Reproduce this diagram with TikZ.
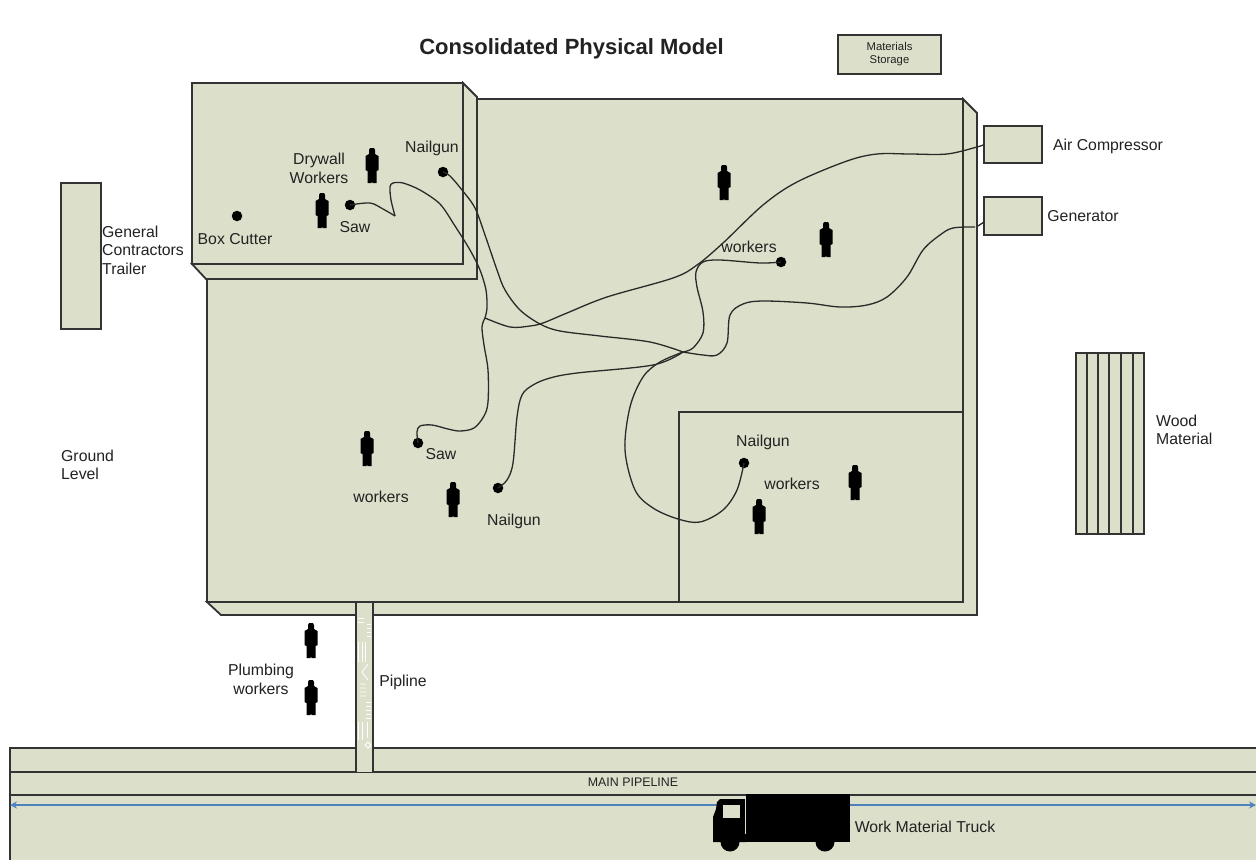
\documentclass[tikz,border=0pt]{standalone}
\usepackage{fontspec}
\setmainfont{Liberation Sans}
\usetikzlibrary{arrows.meta}
\definecolor{sage}{HTML}{DCE0CA}
\definecolor{ink}{HTML}{333333}
\definecolor{wire}{HTML}{2A2A28}
\definecolor{txt}{HTML}{222222}
\definecolor{bluearrow}{HTML}{4F81BD}
\tikzset{
  solid3d/.style={draw=ink,fill=sage,line width=1.4pt,line join=miter},
  outer3d/.style={draw=ink,fill=sage,line width=1.8pt,line join=miter},
  boxn/.style={draw=ink,fill=sage,line width=1.4pt,inner sep=0pt,outer sep=0pt},
  lab/.style={text=txt,inner sep=0pt,yshift=-0.7pt,font=\fontsize{15.8}{18.8}\selectfont,align=center},
  labm/.style={lab,yshift=0.2pt},
  labl/.style={lab,yshift=0.4pt,align=left,anchor=west},
  tiny/.style={text=txt,inner sep=0pt,font=\fontsize{11.3}{13}\selectfont,align=center},
  dotn/.style={circle,fill=black,inner sep=0pt,minimum size=10.5pt},
  wirel/.style={draw=wire,line width=1.3pt,line join=round},
  worker/.pic={\fill[black] (-2,0) -- (2,0) -- (3,2) -- (3,6) -- (6.5,8) -- (6.5,22) -- (4.5,23) -- (4.5,35) -- (0.5,35) -- (0,33) -- (-0.5,35) -- (-4.5,35) -- (-4.5,23) -- (-6.5,22) -- (-6.5,8) -- (-3,6) -- (-3,2) -- cycle;}
}
\begin{document}
\begin{tikzpicture}[x=1pt,y=-1pt]
\useasboundingbox (0,0) rectangle (1256,860);
\fill[white] (0,0) rectangle (1256,860);

% ground band with main pipeline
\fill[sage] (10,748) rectangle (1256,860);
\draw[ink,line width=1.4pt] (1256,748) -- (10,748) -- (10,860);
\draw[ink,line width=1.4pt] (10,772) -- (1256,772);
\draw[ink,line width=1.4pt] (10,795) -- (1256,795);

% main slab
\draw[outer3d] (963,99) -- (977,113) -- (977,615) -- (221,615) -- (207,602) -- (963,602) -- cycle;
\draw[solid3d] (207,99) rectangle (963,602);
\node[boxn,minimum width=284pt,minimum height=190pt] (room) at (821,507) {};

% pipe
\fill[sage] (356,602) rectangle (373,772);
\draw[ink,line width=1.4pt] (356,602) -- (356,772);
\draw[ink,line width=1.4pt] (373,602) -- (373,772);
\draw[ink,line width=1.4pt] (207,602) -- (373,602);
\begin{scope}[white,line width=0.9pt]
\draw (358,618) -- (364,618) (358,622) -- (364,622) (367,624) -- (371,624) (367,628) -- (371,628) (367,632) -- (371,632) (367,636) -- (371,636);
\draw (358,642) -- (358,662) (362,642) -- (362,662) (365,642) -- (365,662);
\draw (368,664) -- (362,672) -- (368,680) (360,684) -- (366,684) (360,688) -- (366,688) (360,692) -- (366,692) (360,696) -- (366,696);
\draw (366,702) -- (371,702) (366,706) -- (371,706) (366,710) -- (371,710) (366,714) -- (371,714) (366,718) -- (371,718);
\draw (358,722) -- (358,740) (362,722) -- (362,740) (367,722) -- (367,738);
\draw (368,742) -- (365,745) -- (368,748) -- (371,745) -- cycle;
\end{scope}

% upper drywall box
\draw[outer3d] (463,83) -- (477,97) -- (477,279) -- (206,279) -- (192,264) -- (463,264) -- cycle;
\draw[solid3d] (192,83) rectangle (463,264);

% outside boxes
\node[boxn,minimum width=40pt,minimum height=146pt] (trailer) at (81,256) {};
\node[boxn,minimum width=103pt,minimum height=39pt,tiny] (storage) at (889.5,54.5) {Materials\\Storage};
\node[boxn,minimum width=58pt,minimum height=37pt] (air) at (1013,144.5) {};
\node[boxn,minimum width=58pt,minimum height=38pt] (gen) at (1013,216) {};
\node[boxn,minimum width=68pt,minimum height=181pt] (wood) at (1110,443.5) {};
\foreach \x in {1087,1098,1109,1121,1133} \draw[ink,line width=1.4pt] (\x,353) -- (\x,534);

% tool dots
\node[dotn] (boxcutter) at (237,216) {};
\node[dotn] (sawa) at (350,205) {};
\node[dotn] (nailguna) at (443,172) {};
\node[dotn] (workerstool) at (781,262) {};
\node[dotn] (sawb) at (418,443) {};
\node[dotn] (nailgunb) at (498,488) {};
\node[dotn] (nailgunc) at (744,463) {};
\coordinate (hubw) at (485,318);
\coordinate (hube) at (683,352);
\coordinate (genport) at (975,227);

% hoses
\draw[wirel] plot[smooth,tension=0.55] coordinates {(sawa) (370,203) (383,209) (395,216)};
\draw[wirel] plot[smooth,tension=0.5] coordinates {(395,216) (391,200) (390,187) (393,183) (403,183) (420,190) (440,204) (455,226) (470,250) (480,270) (486,290) (487,308) (hubw)};
\draw[wirel] plot[smooth,tension=0.55] coordinates {(hubw) (482,327) (484,345) (488,370) (488,402) (484,416) (474,428) (460,431) (448,429) (432,425) (420,426) (417,432) (sawb)};
\draw[wirel] plot[smooth,tension=0.55] coordinates {(nailguna) (450,176) (462,190) (475,208) (485,235) (497,270) (505,290) (520,310) (540,324) (560,331) (600,336) (650,342) (hube)};
\draw[wirel] plot[smooth,tension=0.55] coordinates {(air.west) (977,147) (947,154) (910,154) (877,154) (847,161) (797,182) (763,205) (723,243) (697,265) (673,278) (607,297) (567,313) (543,323) (530,326) (510,327) (hubw)};
\draw[wirel] plot[smooth,tension=0.55] coordinates {(genport) (953,228) (940,235) (923,250) (907,277) (887,297) (867,305) (840,307) (807,303) (763,301) (743,304) (730,315) (727,343) (717,355) (703,355) (hube)};
\draw[wirel] (genport) ++(3,-1) -- (984,222);
\draw[wirel] plot[smooth,tension=0.55] coordinates {(workerstool) (760,263) (720,260) (703,262) (696,272) (697,287) (703,312) (703,333) (693,348) (hube)};
\draw[wirel] plot[smooth,tension=0.55] coordinates {(nailgunb) (507,480) (513,463) (517,417) (522,395) (533,385) (550,378) (577,373) (653,365) (hube)};
\draw[wirel] plot[smooth,tension=0.55] coordinates {(nailgunc) (737,490) (723,510) (700,522) (678,519) (653,508) (635,490) (625,450) (630,407) (643,377) (660,362) (hube)};

% workers
\foreach \px/\py in {372/148,322/193,724/165,826/222,367/431,453/482,855/465,759/499,311/623,311/680}
  \pic at (\px,\py) {worker};

% blue line and truck
\draw[bluearrow,line width=1.4pt,{Stealth[length=7pt,width=7pt]}-{Stealth[length=7pt,width=7pt]}] (10,805) -- (1256,805);
\fill[black] (746,794) rectangle (850,842);
\fill[black] (713,842) -- (713,817) -- (716,809) -- (717,802) -- (720,799) -- (745,799) -- (746,842) -- cycle;
\fill[black] (730,842) circle (9.5) (825,842) circle (9.5);
\fill[sage] (722.5,805) rectangle (740,818);
\draw[sage,line width=0.9pt] (745,796) -- (745,834);

% texts
\node[text=txt,inner sep=0pt,yshift=-1.5pt,font=\fontsize{22}{26}\selectfont\bfseries] (title) at (571.5,47) {Consolidated Physical Model};
\node[labm] (tdry) at (319,168) {Drywall\\Workers};
\node[lab] (tnaila) at (432,148) {Nailgun};
\node[lab] (tsawa) at (355,226) {Saw};
\node[lab] (tbox) at (235,238) {Box Cutter};
\node[labl] (tgc) at (102,250) {General\\Contractors\\Trailer};
\node[lab] (tair) at (1108,146) {Air Compressor};
\node[lab] (tgen) at (1083,215) {Generator};
\node[lab] (twa) at (749,246) {workers};
\node[lab] (tnailc) at (763,442) {Nailgun};
\node[lab] (twc) at (792,483) {workers};
\node[lab] (tsawb) at (441,453) {Saw};
\node[lab] (twb) at (381,496) {workers};
\node[lab] (tnailb) at (514,521) {Nailgun};
\node[labl] (tground) at (61,464.5) {Ground\\Level};
\node[labl] (twood) at (1156,429.5) {Wood\\Material};
\node[labm] (tplumb) at (261,678.5) {Plumbing\\workers};
\node[lab] (tpipe) at (403,682) {Pipline};
\node[tiny,font=\fontsize{12.4}{14}\selectfont] (tmain) at (633,782) {MAIN PIPELINE};
\node[lab] (ttruck) at (925,826) {Work Material Truck};
\end{tikzpicture}
\end{document}
